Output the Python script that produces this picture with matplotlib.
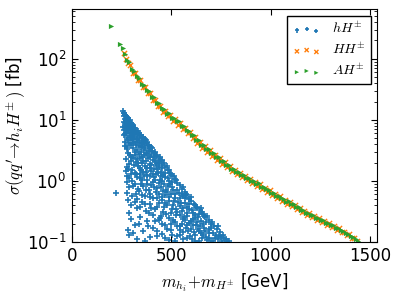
import matplotlib
matplotlib.use("Agg")
import matplotlib.pyplot as plt

# green band (A H+-)
ah_mass = [198, 242, 258, 265, 277, 290, 302, 315, 327, 340, 352, 365, 377, 390, 402, 415,
           427, 440, 452, 465, 477, 490, 502, 515, 527, 540, 552, 565, 577, 590, 602, 615,
           627, 640, 652, 665, 677, 690, 702, 715, 727, 740, 752, 765, 777, 790, 802, 815,
           827, 840, 852, 865, 877, 890, 902, 915, 927, 940, 952, 965, 977, 990, 1002, 1015,
           1027, 1040, 1052, 1065, 1077, 1090, 1102, 1115, 1127, 1140, 1152, 1165, 1177, 1190,
           1202, 1215, 1227, 1240, 1252, 1265, 1277, 1290, 1302, 1315, 1327, 1340, 1352, 1365,
           1377, 1390, 1402, 1415, 1427, 1440]
ah_xsec = [340, 174, 148, 122, 96, 88.6, 67.6, 63.7, 51.7, 49.1, 38.4, 37.6, 31.1, 30.1, 23.8, 23.3,
           18.9, 18.7, 15.5, 15.0, 12.7, 13.0, 10.9, 10.9, 9.41, 9.51, 7.89, 8.04, 6.80, 6.67, 5.63, 5.68,
           4.75, 4.70, 3.91, 3.93, 3.39, 3.38, 2.87, 2.87, 2.48, 2.50, 2.12, 2.13, 1.84, 1.84, 1.59, 1.59,
           1.41, 1.41, 1.25, 1.27, 1.13, 1.12, 1.00, 1.01, 0.897, 0.910, 0.801, 0.805, 0.723, 0.719, 0.639, 0.643,
           0.571, 0.574, 0.516, 0.514, 0.458, 0.461, 0.416, 0.413, 0.368, 0.371, 0.333, 0.331, 0.300, 0.298,
           0.273, 0.274, 0.249, 0.247, 0.226, 0.225, 0.206, 0.205, 0.187, 0.187, 0.171, 0.169, 0.154, 0.153,
           0.139, 0.137, 0.123, 0.121, 0.110, 0.105]

# orange band (H H+-)
hh_mass = [262, 270, 282, 295, 307, 320, 332, 345, 357, 370, 382, 395, 407, 420, 432, 445,
           457, 470, 482, 495, 507, 520, 532, 545, 557, 570, 582, 595, 607, 620, 632, 645,
           657, 670, 682, 695, 707, 720, 732, 745, 757, 770, 782, 795, 807, 820, 832, 845,
           857, 870, 882, 895, 907, 920, 932, 945, 957, 970, 982, 995, 1007, 1020, 1032, 1045,
           1057, 1070, 1082, 1095, 1107, 1120, 1132, 1145, 1157, 1170, 1182, 1195, 1207, 1220,
           1232, 1245, 1257, 1270, 1282, 1295, 1307, 1320, 1332, 1345, 1357, 1370, 1382, 1395,
           1407, 1420, 1432]
hh_xsec = [127, 100, 86.1, 80.5, 59.1, 59.0, 44.9, 44.3, 34.3, 35.2, 27.2, 27.8, 21.1, 21.4, 16.7, 17.1,
           13.6, 14.2, 11.5, 12.1, 9.73, 10.3, 8.37, 8.87, 7.05, 7.47, 6.02, 6.31, 4.98, 5.22, 4.21, 4.41,
           3.51, 3.70, 3.01, 3.18, 2.58, 2.70, 2.21, 2.35, 1.91, 2.01, 1.66, 1.75, 1.44, 1.51, 1.28, 1.37,
           1.15, 1.21, 1.02, 1.09, 0.921, 0.968, 0.814, 0.873, 0.735, 0.772, 0.657, 0.696, 0.586, 0.616, 0.524, 0.556,
           0.474, 0.493, 0.420, 0.447, 0.381, 0.396, 0.341, 0.359, 0.307, 0.318, 0.279, 0.292, 0.252, 0.263,
           0.231, 0.242, 0.211, 0.219, 0.191, 0.201, 0.174, 0.181, 0.159, 0.166, 0.143, 0.148, 0.131, 0.133,
           0.115, 0.117, 0.105]

# blue cloud (h H+-), (mass, xsec) pairs
h_points = [
    (258, 13.8), (263, 12.9), (267, 12.2), (261, 11.4), (271, 11.6), (276, 10.9), (266, 10.3), (281, 10.1),
    (270, 9.5), (286, 9.3), (262, 9.1), (276, 8.8), (291, 8.5), (283, 8.2),
    (259, 7.6), (268, 7.8), (279, 7.5), (290, 7.9), (300, 7.4), (309, 7.7), (264, 6.9), (285, 6.6),
    (296, 6.9), (312, 6.5), (320, 6.8), (273, 6.2), (303, 6.0), (326, 6.1), (335, 5.8), (262, 5.6),
    (291, 5.5), (315, 5.3), (344, 5.4), (280, 5.0), (330, 4.9), (352, 5.0), (300, 4.6), (268, 4.4),
    (320, 4.4), (362, 4.5), (343, 4.2), (375, 4.1), (287, 4.2),
    (265, 3.8), (296, 3.9), (338, 3.8), (355, 3.7), (383, 3.8), (310, 3.5), (370, 3.4), (392, 3.3),
    (275, 3.3), (330, 3.2), (402, 3.1), (350, 3.0), (285, 2.9), (380, 2.9), (412, 2.85), (318, 2.7),
    (365, 2.65), (425, 2.6), (298, 2.5), (395, 2.45), (345, 2.35), (437, 2.3), (272, 2.3), (410, 2.2),
    (375, 2.15), (448, 2.1), (322, 2.05), (428, 2.0),
    (287, 1.9), (355, 1.95), (398, 1.85), (455, 1.85), (275, 1.7), (335, 1.75), (440, 1.72), (470, 1.7),
    (380, 1.6), (415, 1.55), (305, 1.5), (482, 1.5), (270, 1.46), (450, 1.42), (360, 1.38), (495, 1.35),
    (325, 1.3), (425, 1.28), (395, 1.22), (505, 1.2), (470, 1.15), (290, 1.12), (345, 1.1), (520, 1.08),
    (445, 1.05), (380, 1.02), (490, 1.0),
    (220, 0.64), (278, 0.95), (410, 0.96), (530, 0.94), (320, 0.9), (465, 0.88), (545, 0.85), (360, 0.82),
    (505, 0.8), (290, 0.78), (430, 0.76), (555, 0.74), (390, 0.72), (475, 0.7), (340, 0.67), (568, 0.66),
    (280, 0.63), (520, 0.62), (440, 0.6), (580, 0.58), (305, 0.57), (370, 0.56), (490, 0.55), (545, 0.53),
    (410, 0.52), (590, 0.51), (330, 0.5),
    (283, 0.48), (455, 0.48), (600, 0.47), (515, 0.46), (355, 0.45), (570, 0.44), (395, 0.42), (615, 0.42),
    (300, 0.41), (480, 0.4), (545, 0.39), (430, 0.37), (630, 0.37), (330, 0.36), (590, 0.35), (505, 0.34),
    (645, 0.33), (375, 0.32), (555, 0.32), (460, 0.31), (610, 0.3), (290, 0.3), (660, 0.29), (525, 0.28),
    (410, 0.28), (580, 0.27), (345, 0.26), (635, 0.26), (490, 0.25), (670, 0.255),
    (300, 0.24), (560, 0.24), (610, 0.235), (440, 0.23), (690, 0.23), (380, 0.22), (650, 0.22), (520, 0.21),
    (590, 0.205), (700, 0.2), (320, 0.19), (470, 0.19), (625, 0.19), (545, 0.18), (715, 0.18), (410, 0.17),
    (665, 0.17), (600, 0.165), (730, 0.16), (285, 0.155), (500, 0.155), (360, 0.15), (640, 0.15), (560, 0.145),
    (745, 0.145), (690, 0.14), (455, 0.135), (620, 0.13), (760, 0.13), (530, 0.125), (395, 0.12), (675, 0.12),
    (580, 0.115), (720, 0.115), (330, 0.11), (775, 0.11), (490, 0.108), (640, 0.105), (700, 0.103), (790, 0.102),
    (290, 0.13),
    (264, 13.0), (269, 11.9), (278, 11.2), (285, 10.6), (273, 10.0), (292, 9.8), (297, 9.0), (280, 9.6),
    (268, 8.9), (302, 8.6), (289, 8.0), (306, 8.2), (296, 7.6), (314, 7.3), (275, 7.0), (318, 7.4),
    (283, 7.1), (306, 6.3), (324, 6.4), (290, 6.1), (331, 6.6), (267, 5.9), (338, 6.2), (309, 5.7),
    (320, 5.8), (297, 5.2), (348, 5.6), (326, 5.1), (356, 5.2), (310, 4.9), (340, 4.7), (285, 4.7),
    (366, 4.8), (352, 4.4), (330, 4.3), (372, 4.6), (308, 4.1), (362, 4.0), (380, 4.3), (325, 3.9),
    (388, 3.9), (346, 3.6), (396, 3.6), (278, 3.6), (362, 3.2), (318, 3.0), (405, 3.4), (387, 3.1),
    (340, 2.8), (418, 3.0), (372, 2.75), (400, 2.7), (292, 2.7), (430, 2.7), (355, 2.5), (415, 2.45),
    (385, 2.35), (442, 2.45), (330, 2.25), (420, 2.15), (455, 2.2), (360, 2.1), (300, 2.15), (438, 1.95),
    (465, 1.95), (395, 1.9), (312, 1.85), (425, 1.8), (368, 1.78), (478, 1.75), (345, 1.62), (455, 1.6),
    (282, 1.55), (400, 1.45), (490, 1.48), (435, 1.35), (318, 1.33), (380, 1.25), (500, 1.3), (460, 1.25),
    (275, 1.2), (412, 1.15), (515, 1.18), (355, 1.05), (485, 1.1), (305, 0.98),
    (525, 1.02), (440, 0.92), (495, 0.9), (380, 0.88), (560, 0.8), (415, 0.8), (335, 0.75), (530, 0.72),
    (460, 0.68), (575, 0.62), (395, 0.62), (500, 0.6), (355, 0.58), (560, 0.56), (455, 0.54), (600, 0.55),
    (535, 0.45), (620, 0.4), (470, 0.43), (580, 0.38), (650, 0.36), (420, 0.34), (530, 0.31), (620, 0.28),
    (680, 0.27), (565, 0.26), (445, 0.25), (600, 0.22), (660, 0.2), (705, 0.21), (500, 0.2), (575, 0.17),
    (690, 0.16), (635, 0.165), (430, 0.15), (740, 0.125), (545, 0.13), (660, 0.13), (605, 0.11), (755, 0.105),
    (520, 0.105), (370, 0.105), (680, 0.108), (310, 0.14),
    (310, 2.4), (335, 2.0), (350, 1.5), (372, 1.4), (392, 1.6), (410, 1.3), (428, 1.55), (448, 1.2),
    (470, 1.35), (330, 1.15), (365, 1.2), (300, 1.3), (420, 1.05), (455, 1.0), (345, 1.3),
    (310, 0.82), (350, 0.9), (375, 0.7), (400, 0.85), (425, 0.66), (450, 0.78), (470, 0.58), (485, 0.82),
    (510, 0.7), (540, 0.64), (555, 0.6), (520, 0.52), (480, 0.66), (430, 0.53), (395, 0.55), (325, 0.6),
    (570, 0.52), (505, 0.95),
    (320, 0.45), (345, 0.38), (370, 0.42), (400, 0.36), (440, 0.44), (465, 0.37), (490, 0.46), (510, 0.4),
    (525, 0.35), (550, 0.43), (560, 0.36), (590, 0.42), (605, 0.33), (625, 0.36), (640, 0.29), (655, 0.31),
    (545, 0.28), (475, 0.29), (390, 0.3), (500, 0.3), (580, 0.3), (620, 0.25), (665, 0.27), (450, 0.27),
    (340, 0.2), (385, 0.18), (420, 0.22), (455, 0.2), (480, 0.16), (510, 0.23), (530, 0.18), (555, 0.2),
    (570, 0.23), (585, 0.15), (610, 0.19), (630, 0.21), (645, 0.18), (650, 0.14), (670, 0.15), (675, 0.21),
    (700, 0.17), (710, 0.14), (725, 0.13), (735, 0.18), (750, 0.12), (765, 0.115), (780, 0.105), (595, 0.125),
    (615, 0.145), (560, 0.11), (505, 0.13), (470, 0.115), (430, 0.125), (690, 0.115), (710, 0.105), (735, 0.11),
    (620, 0.105), (655, 0.115), (580, 0.19), (545, 0.155)]
h_mass = [p[0] for p in h_points]
h_xsec = [p[1] for p in h_points]

plt.rcParams['font.size'] = 12
plt.rcParams['mathtext.fontset'] = 'cm'
plt.rcParams['axes.unicode_minus'] = False

fig = plt.figure(figsize=(3.99, 2.99), dpi=100)
ax = fig.add_axes([0.18, 0.191, 0.765, 0.778])

ax.scatter(h_mass, h_xsec, marker='+', s=14, linewidths=1.2, color='#1f77b4', label=r'$hH^{\pm}$')
ax.scatter(hh_mass, hh_xsec, marker='x', s=14, linewidths=1.0, color='#ff7f0e', label=r'$HH^{\pm}$')
ax.scatter(ah_mass, ah_xsec, marker='>', s=14, linewidths=0, color='#2ca02c', label=r'$AH^{\pm}$')

ax.set_yscale('log')
ax.set_xlim(0, 1535)
ax.set_ylim(0.1, 650)
ax.set_xticks([0, 500, 1000, 1500])
ax.tick_params(which='both', direction='in', top=True, right=True, pad=4)
ax.tick_params(which='major', length=4)
ax.tick_params(which='minor', length=2)

ax.set_xlabel(r'$m_{h_i}\!+\!m_{H^{\pm}}$ [GeV]')
ax.set_ylabel(r'$\sigma(qq^{\prime}\!\rightarrow\! h_i H^{\pm}\,)$ [fb]')
ax.yaxis.set_label_coords(-0.145, 0.5)

leg = ax.legend(loc='upper right', fontsize=10, scatterpoints=3, scatteryoffsets=[0.375, 0.5, 0.3125],
                fancybox=False, framealpha=1, edgecolor='black', borderaxespad=0.45, markerscale=0.8,
                borderpad=0.4, handlelength=2.0, handletextpad=0.8, labelspacing=0.35)
leg.get_frame().set_linewidth(1.0)

fig.savefig('out.png', dpi=100)
